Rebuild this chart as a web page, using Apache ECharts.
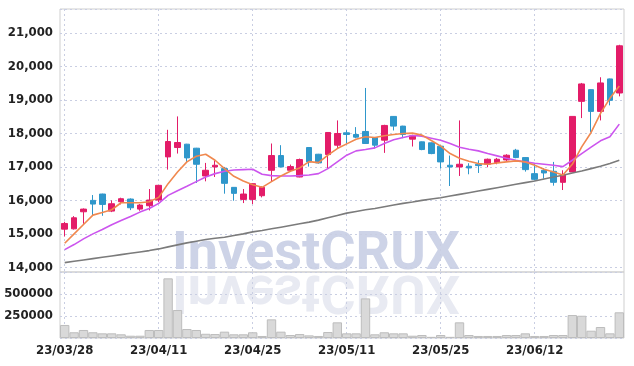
<!DOCTYPE html>
<html>
<head>
<meta charset="utf-8">
<script src="https://cdn.jsdelivr.net/npm/echarts@6/dist/echarts.min.js"></script>
<style>
  html, body { margin: 0; padding: 0; background: #fff; }
  #chart { width: 634px; height: 366px; }
</style>
</head>
<body>
<div id="chart"></div>
<script>
var dates = [
    '23/03/28','23/03/29','23/03/30','23/03/31','23/04/03','23/04/04','23/04/05','23/04/06','23/04/07','23/04/10',
    '23/04/11','23/04/12','23/04/13','23/04/14','23/04/17','23/04/18','23/04/19','23/04/20','23/04/21','23/04/24',
    '23/04/25','23/04/26','23/04/27','23/04/28','23/05/02','23/05/03','23/05/04','23/05/08','23/05/09','23/05/10',
    '23/05/11','23/05/12','23/05/15','23/05/16','23/05/17','23/05/18','23/05/19','23/05/22','23/05/23','23/05/24',
    '23/05/25','23/05/26','23/05/30','23/05/31','23/06/01','23/06/02','23/06/05','23/06/07','23/06/08','23/06/09',
    '23/06/12','23/06/13','23/06/14','23/06/15','23/06/16','23/06/19','23/06/20','23/06/21','23/06/22','23/06/23'
];

var opens = [
    15140, 15150, 15660, 16000, 16190, 15680, 15960, 16040, 15740, 15840,
    16010, 17300, 17580, 17680, 17560, 16730, 17000, 16950, 16390, 16030,
    16030, 16140, 16900, 17340, 16900, 16700, 17580, 17380, 17370, 17650,
    18020, 17970, 18060, 17880, 17800, 18510, 18220, 17830, 17750, 17720,
    17620, 17050, 17000, 17020, 17080, 17080, 17130, 17210, 17500, 17280,
    16800, 16900, 16870, 16540, 16850, 18960, 19310, 18660, 19630, 19210
];
var closes = [
    15310, 15480, 15740, 15890, 15880, 15900, 16050, 15780, 15860, 16010,
    16450, 17760, 17730, 17270, 17080, 16900, 17050, 16510, 16210, 16190,
    16500, 16390, 17340, 17000, 17010, 17220, 17150, 17120, 18030, 18000,
    17970, 17890, 17700, 17650, 18240, 18220, 17970, 17930, 17520, 17400,
    17150, 17000, 17080, 16970, 17040, 17230, 17230, 17350, 17280, 16920,
    16630, 16820, 16540, 16770, 18510, 19480, 18660, 19510, 18990, 20620
];
var lows = [
    14920, 15130, 15300, 15560, 15540, 15650, 15880, 15710, 15690, 15700,
    15950, 16920, 17400, 17120, 16520, 16570, 16700, 16200, 15990, 15920,
    15890, 16090, 16550, 16990, 16880, 16690, 17010, 17100, 16950, 17560,
    17700, 17860, 17690, 17550, 17420, 18090, 17860, 17610, 17500, 17380,
    16950, 16430, 16730, 16780, 16820, 16990, 17080, 17180, 17260, 16860,
    16600, 16650, 16440, 16310, 16840, 18460, 18040, 18390, 18840, 19110
];
var highs = [
    15360, 15530, 15760, 16160, 16200, 16000, 16080, 16060, 15890, 16340,
    16460, 18110, 18510, 17690, 17570, 17120, 17200, 17000, 16400, 16340,
    16510, 16420, 17700, 17650, 17070, 17250, 17590, 17390, 18040, 18390,
    18100, 18190, 19360, 17890, 18260, 18520, 18230, 17960, 17760, 17730,
    17640, 17340, 18390, 17110, 17200, 17250, 17270, 17380, 17540, 17290,
    17100, 16960, 17150, 16900, 18510, 19510, 19320, 19680, 19640, 20650
];

var ma5 = [
    14720, 15000, 15280, 15560, 15640, 15720, 15930, 15930, 15930, 15960,
    16090, 16500, 16850, 17150, 17320, 17380, 17200, 16950, 16720, 16580,
    16470, 16390, 16560, 16730, 16870, 16970, 17160, 17130, 17350, 17550,
    17690, 17830, 17900, 17880, 17930, 17970, 18000, 18010, 17950, 17790,
    17620, 17400, 17260, 17170, 17100, 17080, 17120, 17150, 17180, 17150,
    17050, 16930, 16850, 16760, 17080, 17600, 18030, 18600, 19050, 19420
];
var ma20 = [
    14530, 14680, 14850, 15000, 15130, 15270, 15400, 15520, 15650, 15760,
    15910, 16150, 16290, 16420, 16560, 16700, 16800, 16870, 16910, 16920,
    16930, 16780, 16740, 16730, 16730, 16740, 16760, 16800, 16950, 17150,
    17350, 17480, 17520, 17570, 17700, 17810, 17880, 17940, 17920, 17860,
    17800, 17700, 17590, 17530, 17480, 17400, 17330, 17260, 17200, 17150,
    17110, 17080, 17050, 17010, 17200, 17400, 17590, 17780, 17900, 18280
];
var ma60 = [
    14140, 14180, 14220, 14260, 14300, 14340, 14380, 14420, 14460, 14500,
    14550, 14610, 14670, 14730, 14780, 14830, 14870, 14900, 14950, 15000,
    15060, 15100, 15150, 15200, 15250, 15300, 15350, 15410, 15480, 15550,
    15620, 15670, 15720, 15760, 15810, 15860, 15910, 15950, 16000, 16040,
    16080, 16130, 16180, 16230, 16280, 16330, 16380, 16430, 16480, 16530,
    16580, 16640, 16700, 16750, 16820, 16880, 16950, 17020, 17100, 17200
];

var volumes = [
    148000, 65000, 91000, 65000, 53000, 53000, 42000, 26000, 26000, 91000,
    91000, 678000, 318000, 102000, 91000, 48000, 45000, 72000, 42000, 42000,
    65000, 23000, 212000, 72000, 34000, 45000, 30000, 23000, 68000, 178000,
    53000, 53000, 450000, 42000, 65000, 53000, 53000, 26000, 34000, 13000,
    34000, 13000, 178000, 34000, 23000, 23000, 23000, 34000, 34000, 53000,
    23000, 23000, 34000, 34000, 261000, 253000, 83000, 125000, 53000, 292000
];

var UP = '#e31c68';
var DOWN = '#2f97cb';
var GRID_LINE = '#c9cee2';
var LABEL_FONT = '"DejaVu Sans Condensed", "DejaVu Sans", sans-serif';

var candles = dates.map(function(d, i) {
    return [opens[i], closes[i], lows[i], highs[i]];
});

var chart = echarts.init(document.getElementById('chart'));

var splitLineX = {
    show: true,
    interval: 9,
    alignWithLabel: true,
    lineStyle: { color: GRID_LINE, type: [2, 3], width: 1 }
};

var option = {
    animation: false,
    backgroundColor: '#fff',
    grid: [
        { left: 60, right: 10, top: 9, height: 263, show: true, borderColor: '#cfcfcf', borderWidth: 1 },
        { left: 60, right: 10, top: 272, height: 66, show: true, borderColor: '#cfcfcf', borderWidth: 1 }
    ],
    graphic: [
        {
            type: 'text',
            x: 172, y: 282,
            z: 0,
            style: {
                text: 'InvestCRUX',
                font: 'bold 54px Roboto',
                fill: '#cdd3e7',
                textVerticalAlign: 'bottom'
            }
        },
        {
            type: 'text',
            x: 172, y: 262,
            scaleY: -1,
            z: 0,
            style: {
                text: 'InvestCRUX',
                font: 'bold 54px Roboto',
                fill: '#e8eaf2',
                textVerticalAlign: 'bottom'
            }
        }
    ],
    xAxis: [
        {
            type: 'category',
            gridIndex: 0,
            data: dates,
            boundaryGap: true,
            axisLine: { show: false },
            axisTick: { show: false },
            axisLabel: { show: false },
            splitLine: splitLineX
        },
        {
            type: 'category',
            gridIndex: 1,
            data: dates,
            boundaryGap: true,
            axisLine: { show: false },
            axisTick: { show: false },
            axisLabel: {
                interval: 9,
                color: '#222',
                fontFamily: LABEL_FONT,
                fontSize: 13,
                fontWeight: 'bold',
                margin: 6
            },
            splitLine: splitLineX
        }
    ],
    yAxis: [
        {
            type: 'value',
            gridIndex: 0,
            min: 13860,
            max: 21720,
            splitNumber: 8,
            axisLine: { show: false },
            axisTick: { show: false },
            axisLabel: {
                showMinLabel: false,
                showMaxLabel: false,
                color: '#222',
                fontFamily: LABEL_FONT,
                fontSize: 13,
                fontWeight: 'bold',
                margin: 7
            },
            splitLine: { lineStyle: { color: GRID_LINE, type: [2, 3] } }
        },
        {
            type: 'value',
            gridIndex: 1,
            min: 0,
            max: 750000,
            interval: 250000,
            axisLine: { show: false },
            axisTick: { show: false },
            axisLabel: {
                showMinLabel: false,
                showMaxLabel: false,
                color: '#222',
                fontFamily: LABEL_FONT,
                fontSize: 13,
                fontWeight: 'bold',
                margin: 7,
                formatter: function(v) { return String(v); }
            },
            splitLine: { lineStyle: { color: GRID_LINE, type: [2, 3] } }
        }
    ],
    series: [
        {
            name: 'price',
            type: 'candlestick',
            xAxisIndex: 0,
            yAxisIndex: 0,
            barWidth: 6,
            data: candles,
            itemStyle: {
                color: UP,
                color0: DOWN,
                borderColor: UP,
                borderColor0: DOWN,
                borderWidth: 1
            }
        },
        {
            name: 'MA60',
            type: 'line',
            data: ma60,
            symbol: 'none',
            lineStyle: { color: '#7b7b7b', width: 1.6 }
        },
        {
            name: 'MA20',
            type: 'line',
            data: ma20,
            symbol: 'none',
            lineStyle: { color: '#cc55ee', width: 1.6 }
        },
        {
            name: 'MA5',
            type: 'line',
            data: ma5,
            symbol: 'none',
            lineStyle: { color: '#f0884e', width: 1.6 }
        },
        {
            name: 'volume',
            type: 'bar',
            xAxisIndex: 1,
            yAxisIndex: 1,
            data: volumes,
            barCategoryGap: '0%',
            itemStyle: { color: '#d9d9d9', borderColor: '#bdbdbd', borderWidth: 1 }
        }
    ]
};

chart.setOption(option);
</script>
</body>
</html>
